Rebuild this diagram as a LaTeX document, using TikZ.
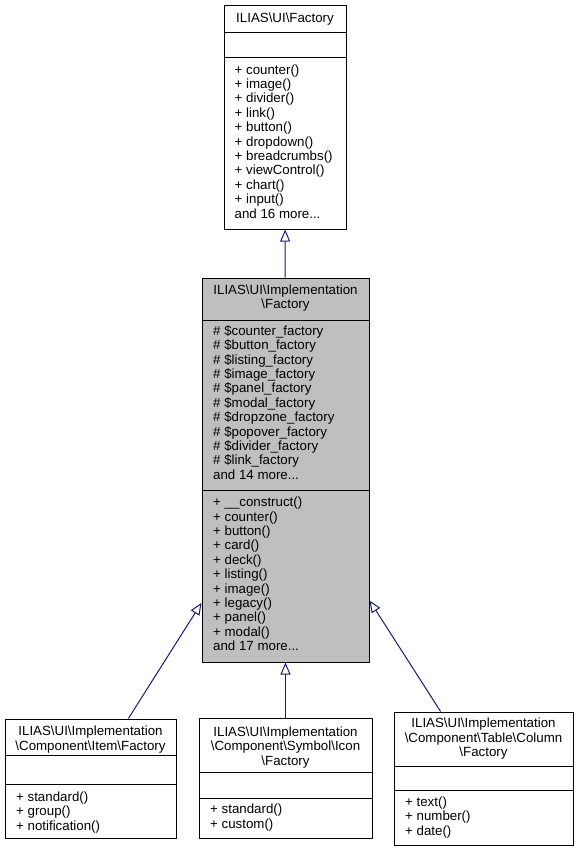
\documentclass[tikz,border=0pt]{standalone}
\usepackage{fontspec}
\newfontfamily\dxfont{Liberation Sans}
\usetikzlibrary{positioning,calc,arrows.meta}
\definecolor{edgeblue}{HTML}{191970}
\definecolor{selgrey}{HTML}{BFBFBF}
\newcommand{\bksl}{\textbackslash}

\begin{document}
\begin{tikzpicture}[x=1pt,y=-1pt,
	cls/.style={draw=black,line width=1pt,fill=white,inner sep=0pt},
	rowline/.style={draw=black,line width=1pt},
	ttl/.style={font=\dxfont\fontsize{13.3}{14.4}\selectfont,inner sep=0pt,align=center,anchor=north},
	mem/.style={font=\dxfont\fontsize{13.3}{14.4}\selectfont,inner sep=0pt,align=left,anchor=north west},
	inherit/.style={draw=edgeblue,line width=1pt,-{Triangle[open,length=12pt,width=10pt]}}]
	\useasboundingbox (0,0) rectangle (579,852);
	
	% class boxes
	\node[cls,minimum width=122pt,minimum height=224pt] (ui) at (285,117) {};
	\node[cls,fill=selgrey,minimum width=167pt,minimum height=384pt] (impl) at (285.5,470) {};
	\node[cls,minimum width=171pt,minimum height=119pt] (item) at (90.5,778.5) {};
	\node[cls,minimum width=173pt,minimum height=120pt] (icon) at (285.5,778) {};
	\node[cls,minimum width=179pt,minimum height=133pt] (colf) at (483.5,778.5) {};
	
	% compartment lines
	\draw[rowline] (ui.west |- 0,32) -- (ui.east |- 0,32);
	\draw[rowline] (ui.west |- 0,57) -- (ui.east |- 0,57);
	\draw[rowline] (impl.west |- 0,320) -- (impl.east |- 0,320);
	\draw[rowline] (impl.west |- 0,490) -- (impl.east |- 0,490);
	\draw[rowline] (item.west |- 0,755) -- (item.east |- 0,755);
	\draw[rowline] (item.west |- 0,784) -- (item.east |- 0,784);
	\draw[rowline] (icon.west |- 0,772) -- (icon.east |- 0,772);
	\draw[rowline] (icon.west |- 0,798) -- (icon.east |- 0,798);
	\draw[rowline] (colf.west |- 0,766) -- (colf.east |- 0,766);
	\draw[rowline] (colf.west |- 0,790) -- (colf.east |- 0,790);
	
	% ILIAS\UI\Factory
	\node[ttl] (uittl) at (ui.north |- 0,12.3) {\strut ILIAS\bksl UI\bksl Factory};
	\node[mem] (uiops) at (234.5,63.8) {\strut + counter()\\+ image()\\+ divider()\\+ link()\\+ button()\\+ dropdown()\\+ breadcrumbs()\\+ viewControl()\\+ chart()\\+ input()\\and 16 more...};
	
	% ILIAS\UI\Implementation\Factory
	\node[ttl] (implttl) at (impl.north |- 0,284) {\strut ILIAS\bksl UI\bksl Implementation\\\bksl Factory};
	\node[mem] (implattr) at (213,325) {\strut \# \$counter\_factory\\\# \$button\_factory\\\# \$listing\_factory\\\# \$image\_factory\\\# \$panel\_factory\\\# \$modal\_factory\\\# \$dropzone\_factory\\\# \$popover\_factory\\\# \$divider\_factory\\\# \$link\_factory\\and 14 more...};
	\node[mem] (implops) at (213,496.5) {\strut + \_\_construct()\\+ counter()\\+ button()\\+ card()\\+ deck()\\+ listing()\\+ image()\\+ legacy()\\+ panel()\\+ modal()\\and 17 more...};
	
	% derived factories
	\node[ttl] (itemttl) at (item.north |- 0,725.7) {\strut ILIAS\bksl UI\bksl Implementation\\\bksl Component\bksl Item\bksl Factory};
	\node[mem] (itemops) at (16,791) {\strut + standard()\\+ group()\\+ notification()};
	\node[ttl] (iconttl) at (icon.north |- 0,726) {\strut ILIAS\bksl UI\bksl Implementation\\\bksl Component\bksl Symbol\bksl Icon\\\bksl Factory};
	\node[mem] (iconops) at (210,803.6) {\strut + standard()\\+ custom()};
	\node[ttl] (colfttl) at (colf.north |- 0,717.6) {\strut ILIAS\bksl UI\bksl Implementation\\\bksl Component\bksl Table\bksl Column\\\bksl Factory};
	\node[mem] (colfops) at (405,796) {\strut + text()\\+ number()\\+ date()};
	
	% inheritance
	\draw[inherit] (impl) -- (ui);
	\draw[inherit] (item) -- (impl);
	\draw[inherit] (icon) -- (impl);
	\draw[inherit] (colf) -- (impl);
\end{tikzpicture}
\end{document}
